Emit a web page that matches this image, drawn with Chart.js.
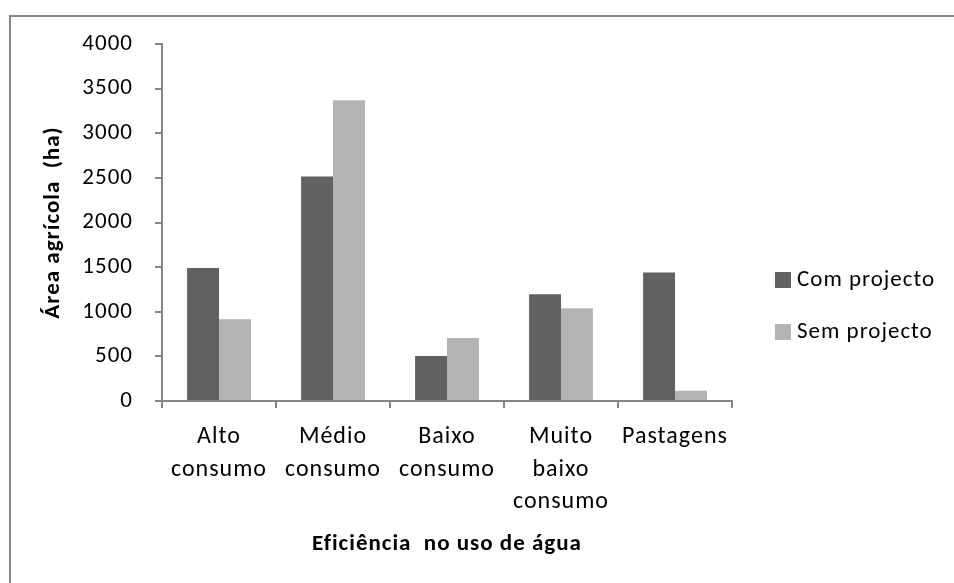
<!DOCTYPE html>
<html>
<head>
<meta charset="utf-8">
<title>Área agrícola por eficiência no uso de água</title>
<script src="https://cdn.jsdelivr.net/npm/chart.js@4/dist/chart.umd.min.js"></script>
<style>
  body { margin: 0; background: #fff; }
  canvas { display: block; }
</style>
</head>
<body>
<canvas id="chart" width="954" height="583"></canvas>
<script>
// chart data
const categories = [
  ['Alto', 'consumo'],
  ['Médio', 'consumo'],
  ['Baixo', 'consumo'],
  ['Muito', 'baixo', 'consumo'],
  ['Pastagens']
];
const seriesNames = ['Com projecto', 'Sem projecto'];
const comProjecto = [1490, 2515, 505, 1195, 1440];
const semProjecto = [915, 3370, 705, 1040, 115];
const yTicks = [0, 500, 1000, 1500, 2000, 2500, 3000, 3500, 4000];

const FONT = 'Carlito, Lato, sans-serif';
const AXIS_GREY = '#868686';

// Excel text looks a bit spaced out, so widen the letters a little
const spacingPlugin = {
  id: 'spacing',
  beforeLayout(chart) { chart.ctx.letterSpacing = '1px'; },
  beforeDraw(chart) { chart.ctx.letterSpacing = '1px'; }
};

// white background + frame (top and left edge only, the rest is cropped)
const framePlugin = {
  id: 'frame',
  beforeDraw(chart) {
    const ctx = chart.ctx;
    ctx.save();
    ctx.fillStyle = '#fff';
    ctx.fillRect(0, 0, chart.width, chart.height);
    ctx.strokeStyle = AXIS_GREY;
    ctx.lineWidth = 2;
    ctx.beginPath();
    ctx.moveTo(10, chart.height);
    ctx.lineTo(10, 16);
    ctx.lineTo(chart.width, 16);
    ctx.stroke();
    ctx.restore();
  }
};

// Excel-like legend on the right
const legendPlugin = {
  id: 'sideLegend',
  afterDraw(chart) {
    const ctx = chart.ctx;
    ctx.save();
    ctx.font = '23px ' + FONT;
    ctx.textBaseline = 'middle';
    ctx.textAlign = 'left';
    chart.data.datasets.forEach((ds, i) => {
      const cy = 280 + i * 52;
      ctx.fillStyle = ds.backgroundColor;
      ctx.fillRect(775, cy - 8, 16, 16);
      ctx.fillStyle = '#000';
      ctx.fillText(ds.label, 797, cy);
    });
    ctx.restore();
  }
};

new Chart(document.getElementById('chart'), {
  type: 'bar',
  data: {
    labels: categories,
    datasets: [
      { label: seriesNames[0], data: comProjecto, backgroundColor: '#616161' },
      { label: seriesNames[1], data: semProjecto, backgroundColor: '#b3b3b3' }
    ]
  },
  options: {
    responsive: false,
    animation: false,
    layout: { padding: { left: 12, right: 222, top: 44, bottom: 0 } },
    datasets: {
      bar: { barPercentage: 1, categoryPercentage: 0.56 }
    },
    plugins: {
      legend: { display: false },
      tooltip: { enabled: false }
    },
    scales: {
      x: {
        afterFit(scale) { scale.height = 182; },
        grid: {
          drawOnChartArea: false,
          tickLength: 7,
          color: AXIS_GREY,
          lineWidth: 2
        },
        border: { color: AXIS_GREY, width: 2 },
        ticks: {
          color: '#000',
          padding: 13,
          maxRotation: 0,
          autoSkip: false,
          font: { family: FONT, size: 24, lineHeight: 1.35 }
        },
        title: {
          display: true,
          text: 'Eficiência  no uso de água',
          color: '#000',
          font: { family: FONT, size: 23, weight: 'bold' },
          padding: { top: 0, bottom: 25 }
        }
      },
      y: {
        min: 0,
        max: 4000,
        afterFit(scale) { scale.width = 150; },
        afterBuildTicks(scale) { scale.ticks = yTicks.map(v => ({ value: v })); },
        grid: {
          drawOnChartArea: false,
          tickLength: 7,
          color: AXIS_GREY,
          lineWidth: 2
        },
        border: { color: AXIS_GREY, width: 2 },
        ticks: {
          color: '#000',
          padding: 22,
          font: { family: FONT, size: 23 },
          callback: v => String(v)
        },
        title: {
          display: true,
          text: 'Área agrícola  (ha)',
          color: '#000',
          font: { family: FONT, size: 23, weight: 'bold' },
          padding: { top: 27, bottom: 0 }
        }
      }
    }
  },
  plugins: [spacingPlugin, framePlugin, legendPlugin]
});
</script>
</body>
</html>
